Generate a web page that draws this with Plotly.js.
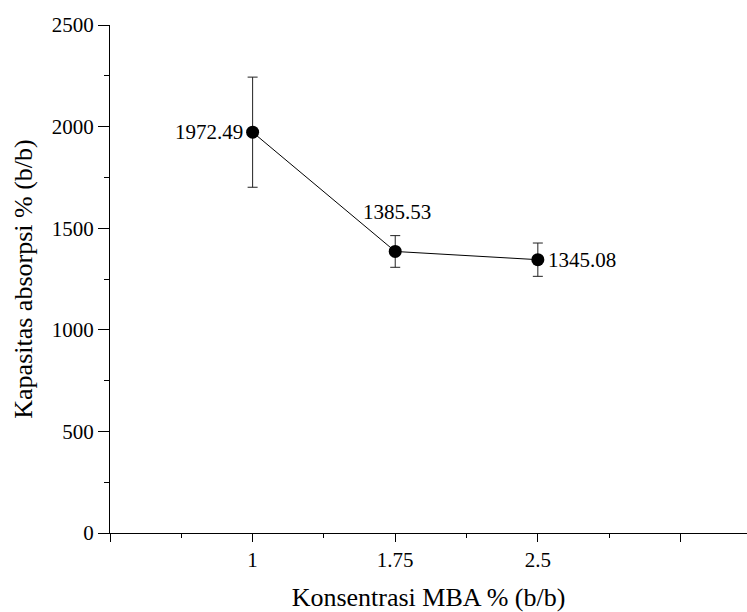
<!DOCTYPE html>
<html>
<head>
<meta charset="utf-8">
<script src="https://cdn.plot.ly/plotly-3.0.1.min.js"></script>
<style>html,body{margin:0;padding:0;background:#fff;}#chart{width:747px;height:612px;}</style>
</head>
<body>
<div id="chart"></div>
<script>
const concentrations = [1, 1.75, 2.5];
const capacity = [1972.49, 1385.53, 1345.08];
const errors = [271, 78, 82];
const pointLabels = ['1972.49', '1385.53', '1345.08'];
const xTickVals = [0.25, 1, 1.75, 2.5, 3.25];
const xTickText = ['', '1', '1.75', '2.5', ''];

const font = 'Liberation Serif';

const trace = {
  x: concentrations,
  y: capacity,
  type: 'scatter',
  mode: 'lines+markers',
  line: {color: '#000', width: 1},
  marker: {color: '#000', size: 13},
  error_y: {type: 'data', array: errors, visible: true, color: '#222', thickness: 1, width: 5},
  cliponaxis: false,
  hoverinfo: 'none'
};

// label placement offsets (styling only)
const labelStyle = [
  {xanchor: 'right', yanchor: 'middle', xshift: -8, yshift: 0},
  {xanchor: 'center', yanchor: 'middle', xshift: 2, yshift: 39},
  {xanchor: 'left', yanchor: 'middle', xshift: 8, yshift: 0}
];
const annotations = concentrations.map((x, i) => Object.assign({
  x: x, y: capacity[i], xref: 'x', yref: 'y', text: pointLabels[i],
  showarrow: false, font: {family: font, size: 21, color: '#000'}
}, labelStyle[i]));

const layout = {
  width: 747, height: 612,
  margin: {l: 109.5, r: 0, t: 25, b: 79},
  paper_bgcolor: '#fff', plot_bgcolor: '#fff',
  showlegend: false,
  font: {family: font, size: 21, color: '#000'},
  annotations: annotations,
  xaxis: {
    range: [0.25, 3.6],
    tickmode: 'array', tickvals: xTickVals, ticktext: xTickText,
    ticks: 'outside', ticklen: 8, tickwidth: 1, tickcolor: '#000',
    minor: {tickmode: 'linear', tick0: 0.25, dtick: 0.375, ticks: 'outside', ticklen: 4, tickwidth: 1, tickcolor: '#000'},
    showline: true, linecolor: '#000', linewidth: 1,
    showgrid: false, zeroline: false,
    tickfont: {family: font, size: 21},
    title: {text: 'Konsentrasi MBA % (b/b)', font: {family: font, size: 26}, standoff: 16}
  },
  yaxis: {
    range: [0, 2500],
    tickmode: 'linear', tick0: 0, dtick: 500,
    ticks: 'outside', ticklen: 11, tickwidth: 1, tickcolor: '#000',
    minor: {tickmode: 'linear', tick0: 0, dtick: 250, ticks: 'outside', ticklen: 5, tickwidth: 1, tickcolor: '#000'},
    showline: true, linecolor: '#000', linewidth: 1,
    showgrid: false, zeroline: false,
    tickfont: {family: font, size: 21},
    title: {text: 'Kapasitas absorpsi % (b/b)', font: {family: font, size: 26}, standoff: 11}
  }
};

Plotly.newPlot('chart', [trace], layout, {displayModeBar: false, staticPlot: true});
</script>
</body>
</html>
